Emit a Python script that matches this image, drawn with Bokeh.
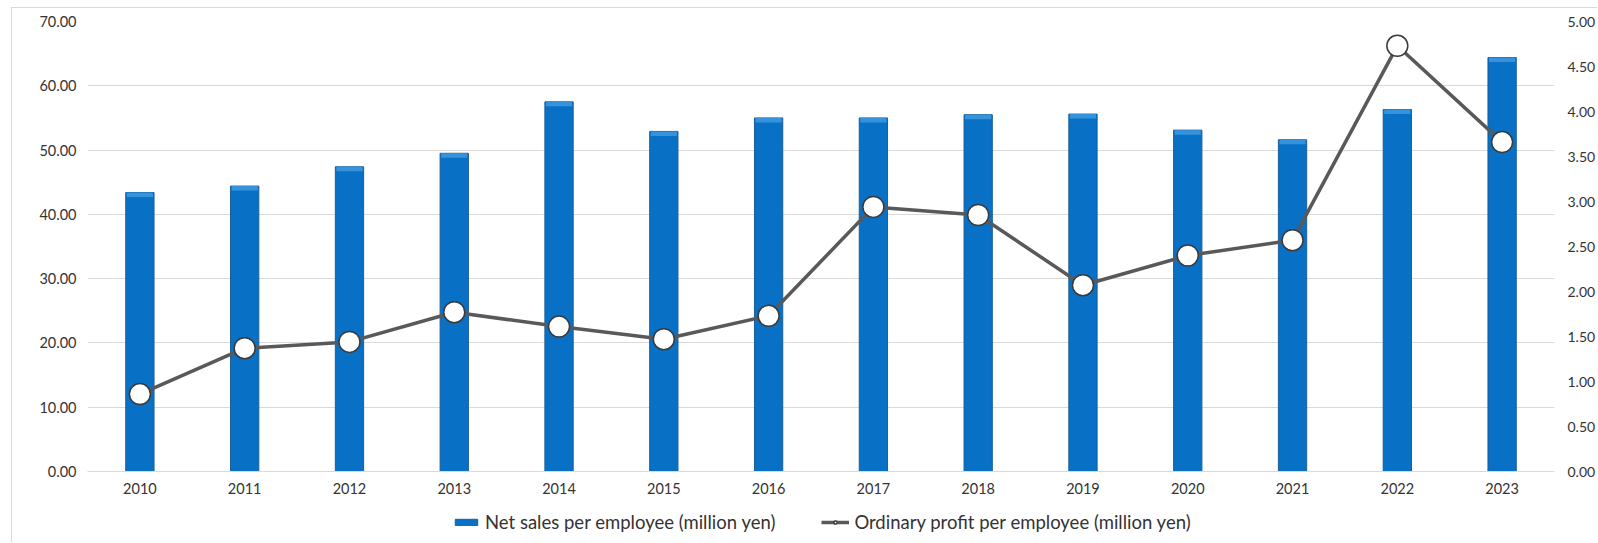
from bokeh.plotting import figure
from bokeh.layouts import column
from bokeh.models import (Range1d, LinearAxis, FixedTicker, NumeralTickFormatter,
                          Legend, LegendItem, ColumnDataSource, FactorRange)
from bokeh.embed import file_html
from bokeh.resources import INLINE

years = ["2010", "2011", "2012", "2013", "2014", "2015", "2016",
         "2017", "2018", "2019", "2020", "2021", "2022", "2023"]
net_sales = [43.4, 44.4, 47.4, 49.5, 57.5, 52.9, 55.0,
             55.0, 55.5, 55.6, 53.1, 51.6, 56.3, 64.4]
ordinary_profit = [0.86, 1.37, 1.44, 1.77, 1.61, 1.47, 1.73,
                   2.94, 2.85, 2.07, 2.40, 2.57, 4.73, 3.66]
left_ticks = [0, 10, 20, 30, 40, 50, 60, 70]
right_ticks = [0, 0.5, 1, 1.5, 2, 2.5, 3, 3.5, 4, 4.5, 5]
series_names = ["Net sales per employee (million yen)",
                "Ordinary profit per employee (million yen)"]

FONT = "Lato"
TXT = "#333333"
BAR_FILL = "#0871C6"
BAR_LINE = "#1B5E98"
HI_FILL = "#3593DE"
LINE_COL = "#595959"
W = 1586

src = ColumnDataSource(dict(x=years, sales=net_sales, profit=ordinary_profit,
                            hi_bottom=[v - 0.7 for v in net_sales]))

p = figure(width=W, height=500, x_range=FactorRange(*years, range_padding=0),
           y_range=Range1d(0, 70), output_backend="svg", toolbar_location=None,
           min_border_left=75, min_border_right=40, min_border_top=13,
           min_border_bottom=37)
p.styles = {"border-left": "1px solid #d9d9d9", "border-top": "1px solid #d9d9d9"}
p.outline_line_color = None
p.extra_y_ranges = {"y2": Range1d(0, 5)}

p.vbar(x="x", top="sales", width=0.27, source=src,
       fill_color=BAR_FILL, line_color=BAR_LINE, line_width=1)
p.vbar(x="x", top="sales", bottom="hi_bottom", width=0.25, source=src,
       fill_color=HI_FILL, line_color=None)

p.line(x="x", y="profit", source=src, y_range_name="y2",
       line_color=LINE_COL, line_width=3.5)
p.scatter(x="x", y="profit", source=src, y_range_name="y2", size=21,
          fill_color="white", line_color="#3a3a3a", line_width=1.5)

p.yaxis.ticker = FixedTicker(ticks=left_ticks)
p.yaxis.formatter = NumeralTickFormatter(format="0.00")
ax2 = LinearAxis(y_range_name="y2", ticker=FixedTicker(ticks=right_ticks),
                 formatter=NumeralTickFormatter(format="0.00"))
p.add_layout(ax2, "right")

for ax, so, fs in [(p.yaxis[0], 11, "14.5px"), (ax2, 13, "14px")]:
    ax.axis_line_color = None
    ax.major_tick_line_color = None
    ax.minor_tick_line_color = None
    ax.major_tick_out = 0
    ax.major_tick_in = 0
    ax.minor_tick_out = 0
    ax.major_label_text_font = FONT
    ax.major_label_text_font_size = fs
    ax.major_label_text_color = TXT
    ax.major_label_standoff = so

p.xaxis.axis_line_color = "#d9d9d9"
p.xaxis.major_tick_line_color = None
p.xaxis.minor_tick_line_color = None
p.xaxis.major_tick_out = 0
p.xaxis.major_tick_in = 0
p.xaxis.major_label_text_font = FONT
p.xaxis.major_label_text_font_size = "14.5px"
p.xaxis.major_label_text_color = TXT
p.xaxis.major_label_standoff = 11

p.xgrid.grid_line_color = None
p.ygrid.grid_line_color = "#d9d9d9"
p.ygrid.grid_line_width = 1

# legend strip below the chart (its renderers hold one point outside the view)
lg = figure(width=W, height=35, output_backend="svg", toolbar_location=None,
            x_axis_type=None, y_axis_type=None, x_range=Range1d(0, 1),
            y_range=Range1d(0, 1), min_border=0)
lg.styles = {"border-left": "1px solid #d9d9d9"}
lg.outline_line_color = None
lg.xgrid.grid_line_color = None
lg.ygrid.grid_line_color = None
offscreen = ColumnDataSource(dict(x=[-5.0], y=[-5.0]))
r_bar = lg.vbar(x="x", top="y", width=0.1, source=offscreen,
                fill_color=BAR_FILL, line_color=BAR_LINE, line_width=1)
r_line = lg.line(x="x", y="y", source=offscreen, line_color=LINE_COL, line_width=3.5)
r_pt = lg.scatter(x="x", y="y", source=offscreen, size=10,
                  fill_color="white", line_color="#3a3a3a", line_width=1.5)

legend = Legend(items=[
    LegendItem(label=series_names[0], renderers=[r_bar]),
    LegendItem(label=series_names[1], renderers=[r_line, r_pt]),
], orientation="horizontal", location=(365, 9))
legend.label_text_font = FONT
legend.label_text_font_size = "18.5px"
legend.label_text_color = TXT
legend.glyph_width = 28
legend.glyph_height = 8
legend.label_standoff = 5
legend.spacing = 46
legend.padding = 0
legend.margin = 0
legend.border_line_color = None
legend.background_fill_alpha = 0
lg.add_layout(legend, "center")

layout = column(p, lg, spacing=0)
layout.styles = {"margin-left": "11px", "margin-top": "7px"}
open("out.html", "w").write(file_html(layout, INLINE))
